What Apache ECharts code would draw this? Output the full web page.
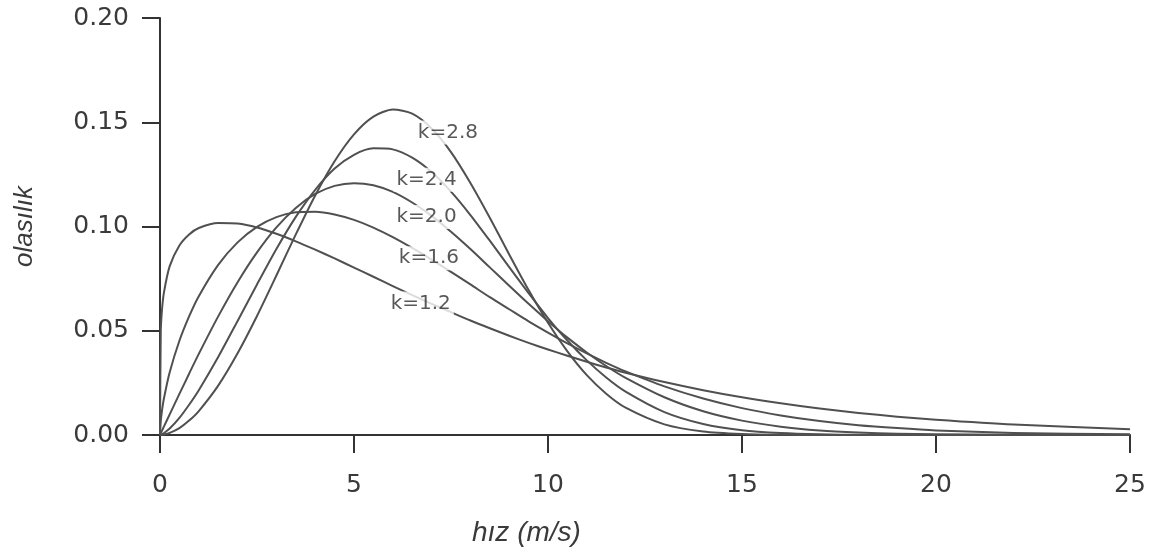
<!DOCTYPE html>
<html>
<head>
<meta charset="utf-8">
<style>
  html, body { margin: 0; padding: 0; background: #fff; }
  #chart { width: 1164px; height: 556px; }
</style>
<script src="https://cdn.jsdelivr.net/npm/echarts@6/dist/echarts.min.js"></script>
</head>
<body>
<div id="chart"></div>
<script>
  // hız (m/s) noktaları, her eğri için aynı
  const xs = [0, 0.02, 0.05, 0.1, 0.25, 0.5, 0.75, 1, 1.5, 2, 2.5, 3, 3.5, 4, 4.5, 5, 5.5, 6, 6.5, 7,
              7.5, 8, 8.5, 9, 9.5, 10, 10.5, 11, 11.5, 12, 13, 14, 15, 16, 17, 18, 19, 20, 22, 25];

  const k12 = [0, 0.0497, 0.0597, 0.0682, 0.0810, 0.0909, 0.0962, 0.0993, 0.1017, 0.1014, 0.0995, 0.0965,
               0.0929, 0.0889, 0.0847, 0.0803, 0.0759, 0.0714, 0.0671, 0.0629, 0.0589, 0.0549, 0.0512,
               0.0476, 0.0442, 0.0410, 0.0380, 0.0351, 0.0324, 0.0299, 0.0254, 0.0215, 0.0181, 0.0152,
               0.0127, 0.0106, 0.0088, 0.0073, 0.0050, 0.0028];
  const k16 = [0, 0.0067, 0.0115, 0.0174, 0.0301, 0.0452, 0.0569, 0.0666, 0.0816, 0.0924, 0.0998, 0.1045,
               0.1068, 0.1071, 0.1058, 0.1032, 0.0995, 0.0949, 0.0897, 0.0841, 0.0782, 0.0722, 0.0661,
               0.0603, 0.0545, 0.0491, 0.0439, 0.0391, 0.0346, 0.0305, 0.0233, 0.0175, 0.0129, 0.0094,
               0.0067, 0.0047, 0.0033, 0.0022, 0.0010, 0.0003];
  const k20 = [0, 0.0008, 0.0020, 0.0040, 0.0099, 0.0197, 0.0294, 0.0389, 0.0569, 0.0733, 0.0876, 0.0996,
               0.1089, 0.1156, 0.1195, 0.1208, 0.1198, 0.1166, 0.1115, 0.1051, 0.0975, 0.0892, 0.0804,
               0.0716, 0.0629, 0.0546, 0.0467, 0.0396, 0.0331, 0.0274, 0.0181, 0.0114, 0.0069, 0.0040,
               0.0022, 0.0012, 0.0006, 0.0003, 0.0001, 0];
  const k24 = [0, 0.0001, 0.0003, 0.0009, 0.0031, 0.0082, 0.0145, 0.0215, 0.0374, 0.0547, 0.0722, 0.0892,
               0.1046, 0.1176, 0.1278, 0.1344, 0.1375, 0.1370, 0.1330, 0.1261, 0.1167, 0.1055, 0.0932,
               0.0805, 0.0680, 0.0561, 0.0453, 0.0358, 0.0276, 0.0208, 0.0110, 0.0053, 0.0023, 0.0009,
               0.0003, 0.0001, 0, 0, 0, 0];
  const k28 = [0, 0, 0.0001, 0.0002, 0.0010, 0.0033, 0.0069, 0.0115, 0.0237, 0.0392, 0.0571, 0.0765,
               0.0962, 0.1149, 0.1313, 0.1442, 0.1527, 0.1561, 0.1541, 0.1470, 0.1357, 0.1209, 0.1042,
               0.0866, 0.0695, 0.0538, 0.0401, 0.0287, 0.0198, 0.0131, 0.0051, 0.0017, 0.0005, 0.0001,
               0, 0, 0, 0, 0, 0];

  // eğri etiketleri
  const labelNames = ['k=2.8', 'k=2.4', 'k=2.0', 'k=1.6', 'k=1.2'];
  const labelX = [7.42, 6.87, 6.87, 6.93, 6.72];
  const labelY = [0.1451, 0.1224, 0.1046, 0.0848, 0.0631];

  const curves = [k12, k16, k20, k24, k28];
  const lineColor = '#505050';
  const textColor = '#3a3a3a';

  let chart = echarts.init(document.getElementById('chart'));

  let series = curves.map(function (ys) {
    return {
      type: 'line',
      data: xs.map((x, i) => [x, ys[i]]),
      showSymbol: false,
      smooth: 0.25,
      lineStyle: { color: lineColor, width: 2, join: 'round' },
      silent: true
    };
  });

  series.push({
    type: 'scatter',
    z: 5,
    silent: true,
    symbolSize: 1,
    itemStyle: { color: 'rgba(0,0,0,0)' },
    data: labelX.map((x, i) => [x, labelY[i], labelNames[i]]),
    label: {
      show: true,
      position: 'inside',
      formatter: p => p.data[2],
      fontFamily: 'DejaVu Sans',
      fontSize: 20,
      color: '#2e2e2e',
      backgroundColor: '#fff',
      padding: [2, 3]
    }
  });

  let option = {
    animation: false,
    backgroundColor: '#fff',
    grid: { left: 160, right: 34, top: 18, bottom: 121 },
    xAxis: {
      type: 'value',
      min: 0,
      max: 25,
      interval: 5,
      splitLine: { show: false },
      axisLine: { onZero: false, lineStyle: { color: '#333', width: 2 } },
      axisTick: { length: 18, lineStyle: { color: '#333', width: 2 } },
      axisLabel: { margin: 38, fontFamily: 'DejaVu Sans', fontSize: 25, color: textColor }
    },
    yAxis: {
      type: 'value',
      min: 0,
      max: 0.2,
      interval: 0.05,
      name: 'olasılık',
      nameLocation: 'middle',
      nameGap: 122,
      nameTextStyle: { fontFamily: 'Liberation Sans', fontStyle: 'italic', fontSize: 26, color: textColor },
      splitLine: { show: false },
      axisLine: { show: true, lineStyle: { color: '#333', width: 2 } },
      axisTick: { show: true, length: 18, lineStyle: { color: '#333', width: 2 } },
      axisLabel: {
        margin: 31,
        fontFamily: 'DejaVu Sans',
        fontSize: 25,
        color: textColor,
        formatter: v => v.toFixed(2)
      }
    },
    graphic: [{
      type: 'text',
      left: 472,
      top: 519,
      style: {
        text: 'hız (m/s)',
        font: 'italic 28px "Liberation Sans"',
        fill: textColor
      }
    }],
    series: series
  };

  chart.setOption(option);
  window.addEventListener('resize', function () {
    chart.resize();
  });
</script>
</body>
</html>
